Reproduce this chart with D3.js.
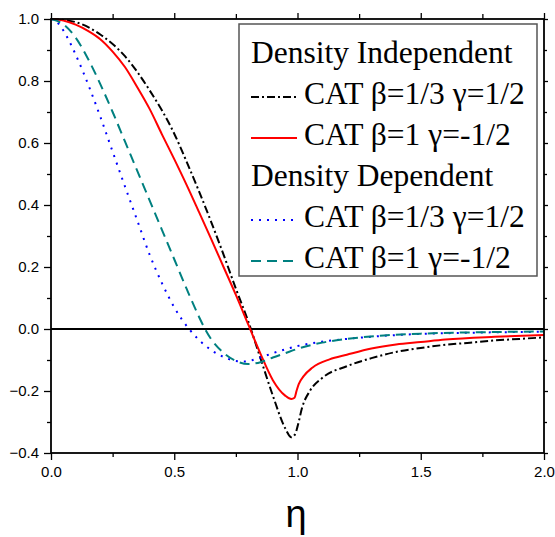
<!DOCTYPE html>
<html>
<head>
<meta charset="utf-8">
<script src="https://cdn.jsdelivr.net/npm/d3@7"></script>
<style>
  body { margin: 0; background: #fff; }
</style>
</head>
<body>
<div id="chart"></div>
<script>
// ---- data ----------------------------------------------------------------

// Density independent, CAT beta=1/3 gamma=1/2 (black dash-dot)
const etaIndepA = [0, 0.05, 0.1, 0.2, 0.3, 0.4, 0.5, 0.55, 0.6, 0.65, 0.7, 0.75, 0.8, 0.85, 0.9, 0.95, 0.975, 0.99, 1.0, 1.02, 1.05, 1.1, 1.2, 1.3, 1.4, 1.5, 1.6, 1.7, 1.8, 1.9, 2.0];
const valIndepA = [1.0, 0.997, 0.99, 0.95, 0.88, 0.77, 0.63, 0.54, 0.445, 0.345, 0.24, 0.13, 0.025, -0.095, -0.215, -0.32, -0.349, -0.34, -0.315, -0.25, -0.2, -0.158, -0.12, -0.094, -0.074, -0.061, -0.051, -0.044, -0.037, -0.032, -0.027];

// Density independent, CAT beta=1 gamma=-1/2 (red solid)
const etaIndepB = [0, 0.05, 0.1, 0.15, 0.2, 0.25, 0.3, 0.35, 0.4, 0.45, 0.5, 0.55, 0.6, 0.65, 0.7, 0.75, 0.8, 0.85, 0.9, 0.95, 0.975, 0.988, 0.996, 1.005, 1.025, 1.06, 1.13, 1.2, 1.3, 1.4, 1.5, 1.6, 1.8, 2.0];
const valIndepB = [1.0, 0.995, 0.982, 0.962, 0.935, 0.895, 0.845, 0.78, 0.71, 0.628, 0.548, 0.465, 0.378, 0.29, 0.2, 0.11, 0.015, -0.08, -0.165, -0.215, -0.226, -0.222, -0.2, -0.178, -0.152, -0.125, -0.098, -0.083, -0.063, -0.05, -0.042, -0.034, -0.025, -0.019];

// Density dependent, CAT beta=1/3 gamma=1/2 (blue dotted)
const etaDepA = [0, 0.02, 0.04, 0.07, 0.1, 0.13, 0.16, 0.2, 0.25, 0.3, 0.35, 0.4, 0.45, 0.5, 0.56, 0.6, 0.65, 0.7, 0.75, 0.79, 0.83, 0.9, 1.0, 1.1, 1.2, 1.35, 1.5, 1.7, 2.0];
const valDepA = [1.0, 0.993, 0.975, 0.935, 0.885, 0.83, 0.77, 0.685, 0.572, 0.46, 0.35, 0.24, 0.148, 0.07, 0.0, -0.035, -0.068, -0.09, -0.103, -0.105, -0.097, -0.078, -0.055, -0.041, -0.032, -0.022, -0.016, -0.012, -0.009];

// Density dependent, CAT beta=1 gamma=-1/2 (teal dashed)
const etaDepB = [0, 0.05, 0.1, 0.15, 0.2, 0.25, 0.3, 0.35, 0.4, 0.45, 0.5, 0.55, 0.6, 0.625, 0.65, 0.7, 0.75, 0.8, 0.85, 0.9, 0.95, 1.0, 1.1, 1.2, 1.35, 1.5, 1.7, 2.0];
const valDepB = [1.0, 0.983, 0.94, 0.872, 0.79, 0.70, 0.605, 0.51, 0.415, 0.32, 0.225, 0.13, 0.04, 0.0, -0.033, -0.077, -0.103, -0.113, -0.107, -0.092, -0.078, -0.064, -0.044, -0.032, -0.021, -0.015, -0.011, -0.008];

const legendHeadings = ['Density Independent', 'Density Dependent'];
const legendLabels = ['CAT β=1/3 γ=1/2', 'CAT β=1 γ=-1/2', 'CAT β=1/3 γ=1/2', 'CAT β=1 γ=-1/2'];

const xMajor = [0, 0.5, 1.0, 1.5, 2.0];
const xMinor = [0.25, 0.75, 1.25, 1.75];
const yMajor = [-0.4, -0.2, 0, 0.2, 0.4, 0.6, 0.8, 1.0];
const yMinor = [-0.3, -0.1, 0.1, 0.3, 0.5, 0.7, 0.9];

// ---- setup ---------------------------------------------------------------

const width = 555, height = 537;
const svg = d3.select('#chart').append('svg')
  .attr('width', width)
  .attr('height', height)
  .attr('viewBox', [0, 0, width, height]);

svg.append('rect').attr('width', width).attr('height', height).attr('fill', '#fff');

const x = d3.scaleLinear().domain([0, 2]).range([51, 544]);
const y = d3.scaleLinear().domain([-0.4, 1.0]).range([453, 19]);

const sansFont = '"Liberation Sans", Arial, sans-serif';
const serifFont = '"Liberation Serif", "Times New Roman", serif';

// ---- curves --------------------------------------------------------------

const series = [
  { eta: etaIndepA, val: valIndepA, color: '#000', dash: '8,3,2,3', w: 2 },
  { eta: etaIndepB, val: valIndepB, color: '#ff0000', dash: null, w: 2 },
  { eta: etaDepA, val: valDepA, color: '#0000ff', dash: '2,6', w: 2 },
  { eta: etaDepB, val: valDepB, color: '#008080', dash: '10,6', w: 2 }
];

const line = d3.line()
  .x(d => x(d[0]))
  .y(d => y(d[1]))
  .curve(d3.curveMonotoneX);

// zero line
svg.append('line')
  .attr('x1', x(0)).attr('x2', x(2))
  .attr('y1', y(0)).attr('y2', y(0))
  .attr('stroke', '#000').attr('stroke-width', 2);

svg.append('g').attr('id', 'curves')
  .selectAll('path')
  .data(series)
  .join('path')
  .attr('d', s => line(s.eta.map((e, i) => [e, s.val[i]])))
  .attr('fill', 'none')
  .attr('stroke', s => s.color)
  .attr('stroke-width', s => s.w)
  .attr('stroke-dasharray', s => s.dash);

// ---- axes ----------------------------------------------------------------

function styleAxis(g) {
  g.select('.domain').remove();
  g.selectAll('line').attr('stroke', '#000').attr('stroke-width', 1.3);
  g.selectAll('text').attr('fill', '#000').attr('font-family', sansFont).attr('font-size', 15);
}

svg.append('g').attr('transform', `translate(0,${y(-0.4)})`)
  .call(d3.axisBottom(x).tickValues(xMajor).tickSize(7).tickPadding(6).tickFormat(d3.format('.1f')))
  .call(styleAxis);
svg.append('g').attr('transform', `translate(0,${y(-0.4)})`)
  .call(d3.axisBottom(x).tickValues(xMinor).tickSize(4).tickFormat(''))
  .call(styleAxis);

svg.append('g').attr('transform', `translate(0,${y(1.0)})`)
  .call(d3.axisTop(x).tickValues(xMajor).tickSize(6).tickFormat(''))
  .call(styleAxis);
svg.append('g').attr('transform', `translate(0,${y(1.0)})`)
  .call(d3.axisTop(x).tickValues(xMinor).tickSize(5).tickFormat(''))
  .call(styleAxis);

svg.append('g').attr('transform', `translate(${x(0)},0)`)
  .call(d3.axisLeft(y).tickValues(yMajor).tickSize(7).tickPadding(5).tickFormat(d3.format('.1f')))
  .call(styleAxis);
svg.append('g').attr('transform', `translate(${x(0)},0)`)
  .call(d3.axisLeft(y).tickValues(yMinor).tickSize(4).tickFormat(''))
  .call(styleAxis);

svg.append('g').attr('transform', `translate(${x(2)},0)`)
  .call(d3.axisRight(y).tickValues(yMajor).tickSize(4).tickFormat(''))
  .call(styleAxis);
svg.append('g').attr('transform', `translate(${x(2)},0)`)
  .call(d3.axisRight(y).tickValues(yMinor).tickSize(3).tickFormat(''))
  .call(styleAxis);

// frame
svg.append('rect')
  .attr('x', x(0)).attr('y', y(1.0))
  .attr('width', x(2) - x(0)).attr('height', y(-0.4) - y(1.0))
  .attr('fill', 'none').attr('stroke', '#000').attr('stroke-width', 1.8);

// axis title
svg.append('text')
  .attr('x', 296).attr('y', 527)
  .attr('text-anchor', 'middle')
  .attr('font-family', sansFont)
  .attr('font-size', 38)
  .text('η');

// ---- legend --------------------------------------------------------------

const legend = svg.append('g').attr('id', 'legend');
legend.append('rect')
  .attr('x', 239).attr('y', 24).attr('width', 298).attr('height', 252)
  .attr('fill', '#fff').attr('stroke', '#555').attr('stroke-width', 1.5);

const rowH = 41, firstBase = 63;
const rows = [
  { text: legendHeadings[0], s: null },
  { text: legendLabels[0], s: series[0] },
  { text: legendLabels[1], s: series[1] },
  { text: legendHeadings[1], s: null },
  { text: legendLabels[2], s: series[2] },
  { text: legendLabels[3], s: series[3] }
];

rows.forEach((r, i) => {
  const base = firstBase + i * rowH;
  if (r.s) {
    legend.append('line')
      .attr('x1', 251).attr('x2', 297)
      .attr('y1', base - 7).attr('y2', base - 7)
      .attr('stroke', r.s.color).attr('stroke-width', r.s.w)
      .attr('stroke-dasharray', r.s.dash);
  }
  legend.append('text')
    .attr('x', r.s ? 304 : 251).attr('y', base)
    .attr('font-family', serifFont).attr('font-size', 31.5)
    .attr('fill', '#000')
    .text(r.text);
});
</script>
</body>
</html>
